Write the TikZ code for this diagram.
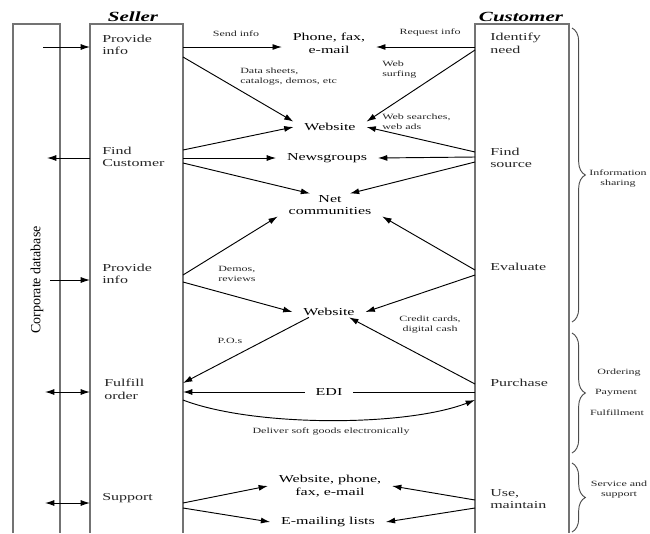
\documentclass[tikz,border=0pt]{standalone}
\usepackage{fontspec}
\setmainfont{Liberation Serif}[FakeStretch=1.5]
\newfontfamily\dbfont{Liberation Serif}
\usepackage{tikz}
\usetikzlibrary{arrows.meta,calc,decorations.pathreplacing}
\tikzset{
	col line/.style={draw=black!55, line width=1.3pt},
	flow/.style={draw=black, line width=0.7pt, arrows={-Latex[length=7pt,width=4.5pt]}},
	both flow/.style={flow, arrows={Latex[length=7pt,width=4.5pt]-Latex[length=7pt,width=4.5pt]}},
	task/.style={font=\fontsize{8}{9.5}\selectfont, text=black!85, align=left, anchor=west, inner sep=0pt},
	medium/.style={font=\fontsize{8}{9.5}\selectfont, align=center, inner xsep=8pt, inner ysep=1pt},
	note/.style={font=\fontsize{6}{7.5}\selectfont, text=black!85, align=left, inner sep=0pt},
	head/.style={font=\fontsize{10.5}{12}\selectfont\bfseries\itshape, anchor=base, inner sep=0pt},
	phase/.style={decorate, decoration={brace, amplitude=10pt}, draw=black!70, line width=0.7pt}
}

\begin{document}
\begin{tikzpicture}[x=0.75pt, y=-0.75pt]
	\useasboundingbox (0,0) rectangle (650,533);
	
	\draw[col line] (13,533) |- (60,24) -- (60,533);
	\draw[col line] (90,533) |- (183,24) -- (183,533);
	\draw[col line] (475,533) |- (569,24) -- (569,533);
	
	\node[head] (seller) at (133,21) {Seller};
	\node[head] (customer) at (521,21) {Customer};
	\node[rotate=90, font=\dbfont\fontsize{10.5}{12}\selectfont] (corpdb) at (37,280) {Corporate database};
	
	\node[task] (prov1) at (102,45) {Provide\\info};
	\node[task] (find) at (102,157) {Find\\Customer};
	\node[task] (prov2) at (102,274) {Provide\\info};
	\node[task] (fulfil) at (104,389) {Fulfill\\order};
	\node[task] (support) at (102,498) {Support};
	
	\node[task] (ident) at (490,43) {Identify\\need};
	\node[task] (source) at (490,158) {Find\\source};
	\node[task] (evaluate) at (490,267) {Evaluate};
	\node[task] (purchase) at (490,383) {Purchase};
	\node[task] (use) at (490,499) {Use,\\maintain};
	
	\node[medium] (phone) at (329,43) {Phone, fax,\\e-mail};
	\node[medium] (web1) at (330,127) {Website};
	\node[medium] (news) at (327,158) {Newsgroups};
	\node[medium] (net) at (330,205) {Net\\communities};
	\node[medium] (web2) at (329,312) {Website};
	\node[medium] (web3) at (330,486) {Website, phone,\\fax, e-mail};
	\node[medium] (lists) at (328,522) {E-mailing lists};
	
	\coordinate (sA1) at (183,47);  \coordinate (sA2) at (183,57);
	\coordinate (sB1) at (183,150); \coordinate (sB2) at (183,158); \coordinate (sB3) at (183,163);
	\coordinate (sC1) at (183,275); \coordinate (sC2) at (183,282);
	\coordinate (sD1) at (183,383); \coordinate (sD2) at (183,392); \coordinate (sD3) at (183,400);
	\coordinate (sE1) at (183,503); \coordinate (sE2) at (183,508);
	
	\coordinate (cA1) at (475,47);  \coordinate (cA2) at (475,50);
	\coordinate (cB1) at (475,152); \coordinate (cB2) at (475,157); \coordinate (cB3) at (475,162);
	\coordinate (cC1) at (475,270); \coordinate (cC2) at (475,275);
	\coordinate (cD1) at (475,384); \coordinate (cD2) at (475,392); \coordinate (cD3) at (475,400);
	\coordinate (cE1) at (475,500); \coordinate (cE2) at (475,508);
	
	\coordinate (dA) at (43,47);  \coordinate (lA) at (90,47);
	\coordinate (dB) at (47,158); \coordinate (lB) at (90,158);
	\coordinate (dC) at (50,280); \coordinate (lC) at (90,280);
	\coordinate (dD) at (45,392); \coordinate (lD) at (90,392);
	\coordinate (dE) at (45,503); \coordinate (lE) at (90,503);
	
	\draw[flow] (dA) -- (lA);
	\draw[flow] (lB) -- (dB);
	\draw[flow] (dC) -- (lC);
	\draw[both flow] (dD) -- (lD);
	\draw[both flow] (dE) -- (lE);
	
	\draw[flow] (sA1) -- (sA1 -| phone.west);
	\draw[flow] (cA1) -- (cA1 -| phone.east);
	\draw[flow] (sA2) -- (web1.north west);
	\draw[flow] (cA2) -- (web1.north east);
	\node[note] (sendinfo) at (236,34) {Send info};
	\node[note] (reqinfo) at (430,33) {Request info};
	\node[note, anchor=west] (sheets) at (240,77) {Data sheets,\\catalogs, demos, etc};
	\node[note, anchor=west] (surfing) at (382,70) {Web\\surfing};
	
	\draw[flow] (sB1) -- (web1.west);
	\draw[flow] (sB2) -- (news.west);
	\draw[flow] (sB3) -- (net.150);
	\draw[flow] (cB1) -- (web1.east);
	\draw[flow] (cB2) -- (news.east);
	\draw[flow] (cB3) -- (net.30);
	\node[note, anchor=west] (searches) at (382,122) {Web searches,\\web ads};
	
	\draw[flow] (sC1) -- (net.south west);
	\draw[flow] (sC2) -- (web2.west);
	\draw[flow] (cC1) -- (net.south east);
	\draw[flow] (cC2) -- (web2.east);
	\node[note, anchor=west] (demos) at (218,274) {Demos,\\reviews};
	
	\draw[flow] (cD1) -- (web2.-15);
	\draw[flow] (web2.195) -- (sD1);
	\draw[flow] (cD2) -- node[medium, fill=white] (edi) {EDI} (sD2);
	\draw[flow] (sD3) .. controls +(70,27) and +(-70,27) .. (cD3);
	\node[note, align=center] (cards) at (430,325) {Credit cards,\\digital cash};
	\node[note] (pos) at (230,341) {P.O.s};
	\node[note] (deliver) at (331,432) {Deliver soft goods electronically};
	
	\draw[flow] (sE1) -- (web3.west);
	\draw[flow] (sE2) -- (lists.west);
	\draw[flow] (cE1) -- (web3.east);
	\draw[flow] (cE2) -- (lists.east);
	
	\draw[phase] (572,28) -- (572,322);
	\draw[phase] (572,333) -- (572,453);
	\draw[phase] (572,463) -- (572,532);
	\node[note, align=center] (sharing) at (618,179) {Information\\sharing};
	\node[note] (ordering) at (619,373) {Ordering};
	\node[note] (payment) at (616,393) {Payment};
	\node[note] (fulfilment) at (617,413) {Fulfillment};
	\node[note, align=center] (service) at (619,490) {Service and\\support};
\end{tikzpicture}
\end{document}
